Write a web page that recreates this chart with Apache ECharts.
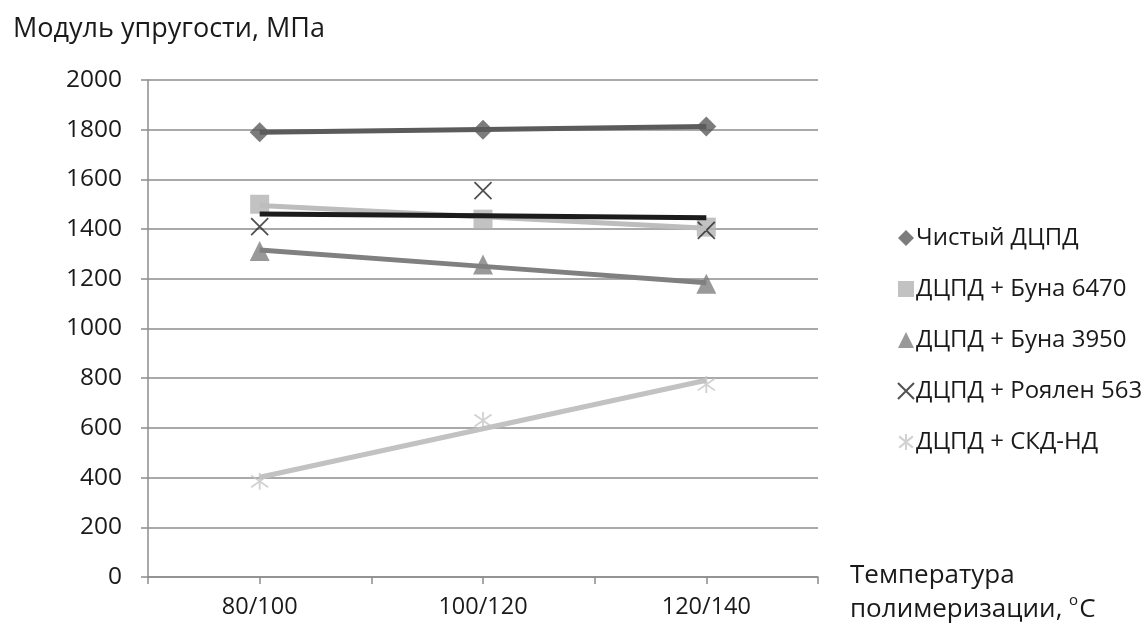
<!DOCTYPE html>
<html><head><meta charset="utf-8">
<script src="https://cdn.jsdelivr.net/npm/echarts@6/dist/echarts.min.js"></script>
<style>html,body{margin:0;padding:0;background:#fff}#c{width:1147px;height:628px}</style>
</head><body><div id="c"></div>
<script>
const categories = ['80/100', '100/120', '120/140'];
const seriesNames = ['Чистый ДЦПД', 'ДЦПД + Буна 6470', 'ДЦПД + Буна 3950', 'ДЦПД + Роялен 563', 'ДЦПД + СКД-НД'];
const pureDCPD = [1790, 1800, 1813];
const buna6470 = [1500, 1440, 1408];
const buna3950 = [1312, 1258, 1180];
const royalene563 = [1410, 1555, 1395];
const skdND = [385, 630, 775];
const yTicks = [0, 200, 400, 600, 800, 1000, 1200, 1400, 1600, 1800, 2000];

const FONT = 'Open Sans';
const chart = echarts.init(document.getElementById('c'), null, {renderer: 'canvas'});

function trend(vals) {
  const n = vals.length;
  let sx = 0, sy = 0, sxy = 0, sxx = 0;
  vals.forEach((v, i) => { sx += i; sy += v; sxy += i * v; sxx += i * i; });
  const b = (n * sxy - sx * sy) / (n * sxx - sx * sx);
  const a = (sy - b * sx) / n;
  return vals.map((v, i) => a + b * i);
}

const CROSS = 'path://M0,0L10,10M10,0L0,10';
const STAR = 'path://M5,0L5,10M0.7,1.5L9.3,8.5M9.3,1.5L0.7,8.5';

const defs = [
  {name: seriesNames[0], data: pureDCPD, symbol: 'diamond', size: 20, color: '#5b5b5b', line: '#5b5b5b', lw: 5},
  {name: seriesNames[1], data: buna6470, symbol: 'rect', size: 19, color: '#b3b3b3', line: '#bdbdbd', lw: 5},
  {name: seriesNames[2], data: buna3950, symbol: 'triangle', size: 20, color: '#808080', line: '#808080', lw: 5},
  {name: seriesNames[3], data: royalene563, symbol: CROSS, size: 17, color: '#262626', line: '#1c1c1c', lw: 5, stroke: true},
  {name: seriesNames[4], data: skdND, symbol: STAR, size: 17, color: '#c6c6c6', line: '#c2c2c2', lw: 5, stroke: true}
];

const series = [];
defs.forEach((d, i) => {
  series.push({
    name: d.name, type: 'scatter', data: d.data, symbol: d.symbol, symbolSize: d.size,
    z: 2 + i,
    itemStyle: d.stroke ? {color: 'rgba(0,0,0,0)', borderColor: d.color, borderWidth: 1.8} : {color: d.color},
    emphasis: {disabled: true}
  });
});
defs.forEach((d, i) => {
  series.push({
    name: d.name + ' тренд', type: 'line', data: trend(d.data), symbol: 'none', z: 10 + i,
    lineStyle: {color: d.line, width: d.lw}, silent: true, emphasis: {disabled: true}
  });
});

chart.setOption({
  animation: false,
  backgroundColor: '#fff',
  textStyle: {fontFamily: FONT},
  title: {text: 'Модуль упругости, МПа', left: 8, top: 11, textStyle: {fontFamily: FONT, fontSize: 27, fontWeight: 'normal', color: '#1a1a1a'}},
  grid: {left: 148, right: 329, top: 80, bottom: 51, containLabel: false},
  legend: {
    data: seriesNames.map((n, i) => ({name: n, icon: defs[i].symbol})),
    orient: 'vertical', left: 892, top: 219, itemWidth: 16, itemHeight: 16, itemGap: 23,
    textStyle: {fontFamily: FONT, fontSize: 24, color: '#1a1a1a', lineHeight: 28, padding: [0, 0, 0, -3]},
    selectedMode: false
  },
  xAxis: [{
    type: 'category', data: categories, boundaryGap: true,
    axisLine: {lineStyle: {color: '#8c8c8c', width: 1.5}},
    axisTick: {show: true, length: 7, lineStyle: {color: '#8c8c8c', width: 1.5}},
    axisLabel: {fontFamily: FONT, fontSize: 23.5, color: '#1a1a1a', margin: 18}
  }, {
    type: 'category', data: categories, boundaryGap: true, position: 'bottom',
    axisLine: {show: false},
    axisTick: {show: true, alignWithLabel: true, length: 7, lineStyle: {color: '#8c8c8c', width: 1.5}},
    axisLabel: {show: false}
  }],
  yAxis: {
    type: 'value', min: 0, max: 2000, interval: 200,
    axisLine: {show: true, lineStyle: {color: '#8c8c8c', width: 1.5}},
    axisTick: {show: true, length: 7, lineStyle: {color: '#8c8c8c', width: 1.5}},
    axisLabel: {fontFamily: FONT, fontSize: 24.5, color: '#1a1a1a', margin: 26,
      formatter: v => yTicks.includes(v) ? String(v) : ''},
    splitLine: {lineStyle: {color: '#8c8c8c', width: 1.5}}
  },
  graphic: [{
    type: 'text', left: 850, top: 559,
    style: {
      text: 'Температура\nполимеризации, {sup|o}C',
      font: '26px "Open Sans"', fill: '#1a1a1a', lineHeight: 34,
      rich: {sup: {fontSize: 15, verticalAlign: 'top', padding: [0, 1, 13, 0], fill: '#1a1a1a', fontFamily: FONT}}
    }
  }],
  series: series
});
</script></body></html>
